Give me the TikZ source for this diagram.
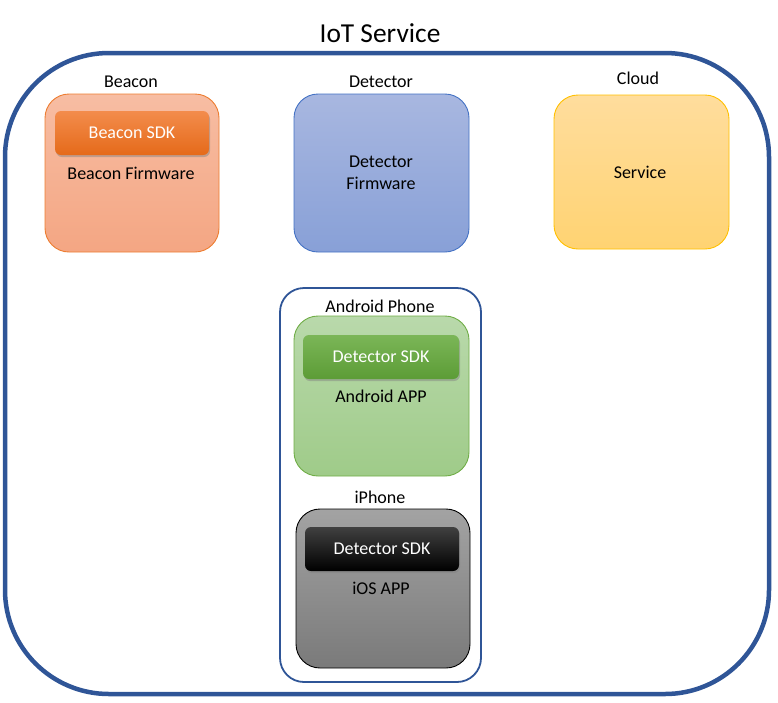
\documentclass[tikz,border=0pt]{standalone}
\usepackage{fontspec}
\setmainfont{Carlito}
\usetikzlibrary{shadows}
\definecolor{outerblue}{HTML}{2F5597}
\definecolor{bcTop}{HTML}{F7BDA3}
\definecolor{bcBot}{HTML}{F4A683}
\definecolor{bcLine}{HTML}{ED7D31}
\definecolor{bsTop}{HTML}{F38C4C}
\definecolor{bsBot}{HTML}{E56A1A}
\definecolor{dtTop}{HTML}{A8B7E0}
\definecolor{dtBot}{HTML}{88A0D7}
\definecolor{dtLine}{HTML}{4472C4}
\definecolor{clTop}{HTML}{FFDD9D}
\definecolor{clBot}{HTML}{FFD372}
\definecolor{clLine}{HTML}{FFC000}
\definecolor{anTop}{HTML}{B9D9AB}
\definecolor{anBot}{HTML}{9FCB89}
\definecolor{anLine}{HTML}{70AD47}
\definecolor{gsTop}{HTML}{7BB657}
\definecolor{gsBot}{HTML}{5C9C36}
\definecolor{ipTop}{HTML}{A3A3A3}
\definecolor{ipBot}{HTML}{7A7A7A}
\definecolor{ksTop}{HTML}{404040}
\definecolor{ksBot}{HTML}{000000}
\tikzset{
  txt/.style={font=\fontsize{18}{22}\selectfont, text=black, inner sep=0pt, align=center},
  bigbox/.style={draw, line width=0.9pt, rounded corners=24pt, inner sep=0pt},
  sdkbox/.style={rounded corners=6pt, inner sep=0pt, text=white,
     font=\fontsize{18}{22}\selectfont,
     drop shadow={opacity=0.45, shadow xshift=1pt, shadow yshift=-2pt}},
}
\begin{document}
\begin{tikzpicture}[x=1pt,y=-1pt]
\useasboundingbox (0,0) rectangle (778,702);
% outer
\draw[outerblue, line width=4.5pt, rounded corners=104pt] (5,53) rectangle (769,694);
\node[font=\fontsize{27.4}{30}\selectfont, inner sep=0pt] (title) at (380,33) {IoT Service};
% Beacon
\node[txt] (beaconlbl) at (131,82) {Beacon};
\node[bigbox, draw=bcLine, top color=bcTop, bottom color=bcBot,
      minimum width=174pt, minimum height=158pt] (beacon) at (132,173) {};
\node[sdkbox, top color=bsTop, bottom color=bsBot,
      minimum width=154pt, minimum height=44pt] (beaconsdk) at (132,133) {Beacon SDK};
\node[txt] (beaconfw) at (131,173) {Beacon Firmware};
% Detector
\node[txt] (detlbl) at (381,82) {Detector};
\node[bigbox, draw=dtLine, top color=dtTop, bottom color=dtBot,
      minimum width=175pt, minimum height=158pt] (detector) at (381.5,173) {};
\node[txt] (detfw) at (381,173) {Detector\\Firmware};
% Cloud
\node[txt] (cloudlbl) at (638,78) {Cloud};
\node[bigbox, draw=clLine, top color=clTop, bottom color=clBot,
      minimum width=175pt, minimum height=154pt] (cloud) at (641.5,172) {};
\node[txt] (service) at (640,172) {Service};
% Phones container
\node[draw=outerblue, line width=1.8pt, rounded corners=24pt, inner sep=0pt,
      minimum width=201pt, minimum height=394pt] (phones) at (380.5,485) {};
\node[txt] (androidlbl) at (380,306) {Android Phone};
\node[bigbox, draw=anLine, top color=anTop, bottom color=anBot,
      minimum width=175pt, minimum height=160pt] (android) at (381.5,396) {};
\node[sdkbox, top color=gsTop, bottom color=gsBot,
      minimum width=156pt, minimum height=44pt] (gsdk) at (381,357) {Detector SDK};
\node[txt] (androidapp) at (381,396) {Android APP};
\node[txt] (iphonelbl) at (380,497) {iPhone};
\node[bigbox, draw=black, top color=ipTop, bottom color=ipBot,
      minimum width=174pt, minimum height=159pt] (iphone) at (383,588.5) {};
\node[sdkbox, top color=ksTop, bottom color=ksBot,
      minimum width=154pt, minimum height=44pt] (ksdk) at (382,549) {Detector SDK};
\node[txt] (iosapp) at (381,588) {iOS APP};
\end{tikzpicture}
\end{document}
